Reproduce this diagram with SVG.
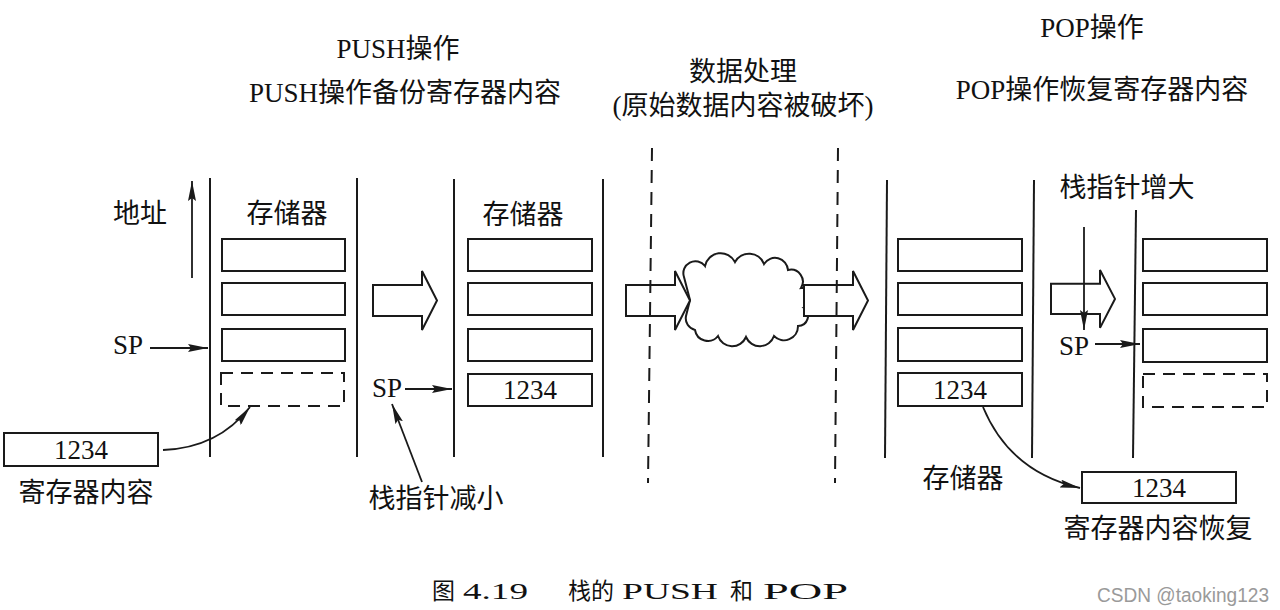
<svg xmlns="http://www.w3.org/2000/svg" width="1280" height="610" viewBox="0 0 1280 610">
<style>
  .t { font-family: "Liberation Serif", "Noto Sans CJK SC", serif; font-size: 27px; fill: #111; }
  .h { font-family: "Liberation Serif", "Noto Sans CJK SC", serif; font-size: 27px; fill: #111; text-anchor: middle; }
  .c { text-anchor: middle; }
  .cap { font-family: "Liberation Serif", "Noto Sans CJK SC", serif; font-size: 23px; fill: #111; }
  .ln { stroke: #1a1a1a; stroke-width: 2; fill: none; }
  .box { stroke: #1a1a1a; stroke-width: 2; fill: #fff; }
  .dbox { stroke: #1a1a1a; stroke-width: 2; fill: none; stroke-dasharray: 12 8; }
  .dash { stroke: #1a1a1a; stroke-width: 2; fill: none; stroke-dasharray: 13 9; }
  .arr { stroke: #1a1a1a; stroke-width: 1.8; fill: none; marker-end: url(#ah); }
  .hollow { stroke: #1a1a1a; stroke-width: 2; fill: #fff; stroke-linejoin: miter; }
</style>
<defs>
  <marker id="ah" viewBox="0 0 20 8" refX="20" refY="4" markerWidth="20" markerHeight="8" markerUnits="userSpaceOnUse" orient="auto">
    <path d="M0,0 L20,4 L0,8 L3,4 Z" fill="#1a1a1a"/>
  </marker>
  <path id="bigarrow" d="M0,14 H49 V0 L64,29.5 L49,59 V45 H0 Z"/>
</defs>
<rect width="1280" height="610" fill="#fff"/>

<g id="titles">
  <text class="h" x="398" y="58">PUSH操作</text>
  <text class="h" x="405" y="102">PUSH操作备份寄存器内容</text>
  <text class="h" x="743" y="81">数据处理</text>
  <text class="h" x="743" y="115">(原始数据内容被破坏)</text>
  <text class="h" x="1092" y="37">POP操作</text>
  <text class="h" x="1102" y="99">POP操作恢复寄存器内容</text>
</g>

<g id="cloud">
  <path class="box" d="M684,277 A12,12 0 0 1 705,266 A16,16 0 0 1 735,262 A16,16 0 0 1 764,264 A13,13 0 0 1 788,270 A12,12 0 0 1 801,288 A10,10 0 0 1 804,308 A10,10 0 0 1 798,326 A14,14 0 0 1 774,336 A15,15 0 0 1 746,337 A15,15 0 0 1 718,336 A13,13 0 0 1 695,330 A12,12 0 0 1 686,316 L690,300 Z"/>
</g>

<g id="flow-arrows">
  <use href="#bigarrow" class="hollow" transform="translate(373,271)"/>
  <use href="#bigarrow" class="hollow" transform="translate(626,271)"/>
  <use href="#bigarrow" class="hollow" transform="translate(804,271)"/>
  <use href="#bigarrow" class="hollow" transform="translate(1051,270) scale(1,0.98)"/>
</g>

<g id="stack1">
  <line class="ln" x1="210" y1="178" x2="210" y2="457"/>
  <line class="ln" x1="357" y1="178" x2="357" y2="457"/>
  <text class="t c" x="287" y="223">存储器</text>
  <rect class="box" x="222" y="239" width="123" height="32"/>
  <rect class="box" x="222" y="283" width="123" height="32"/>
  <rect class="box" x="222" y="329" width="123" height="32"/>
  <rect class="dbox" x="221" y="373" width="123" height="33"/>
  <text class="t" x="113" y="223">地址</text>
</g>

<g id="register1">
  <rect class="box" x="4" y="433" width="154" height="33"/>
  <text class="t c" x="81" y="459">1234</text>
  <text class="t c" x="86" y="502">寄存器内容</text>
</g>

<g id="stack2">
  <line class="ln" x1="454" y1="179" x2="454" y2="457"/>
  <line class="ln" x1="603" y1="179" x2="603" y2="457"/>
  <text class="t c" x="523" y="224">存储器</text>
  <rect class="box" x="468" y="239" width="124" height="32"/>
  <rect class="box" x="468" y="283" width="124" height="32"/>
  <rect class="box" x="468" y="329" width="124" height="32"/>
  <rect class="box" x="468" y="374" width="124" height="32"/>
  <text class="t c" x="530" y="399">1234</text>
</g>

<g id="processing">
  <line class="dash" x1="652" y1="148" x2="648" y2="483"/>
  <line class="dash" x1="838" y1="148" x2="835" y2="483"/>
</g>

<g id="stack3">
  <line class="ln" x1="887" y1="180" x2="885" y2="458"/>
  <line class="ln" x1="1034" y1="180" x2="1032" y2="458"/>
  <rect class="box" x="898" y="239" width="124" height="32"/>
  <rect class="box" x="898" y="283" width="124" height="32"/>
  <rect class="box" x="898" y="328" width="124" height="33"/>
  <rect class="box" x="898" y="373" width="124" height="33"/>
  <text class="t c" x="960" y="399">1234</text>
  <text class="t c" x="963" y="488">存储器</text>
</g>

<g id="stack4">
  <line class="ln" x1="1136" y1="210" x2="1133" y2="458"/>
  <rect class="box" x="1143" y="239" width="124" height="32"/>
  <rect class="box" x="1143" y="283" width="124" height="32"/>
  <rect class="box" x="1143" y="329" width="124" height="33"/>
  <rect class="dbox" x="1143" y="374" width="124" height="33"/>
  <text class="t c" x="1127" y="197">栈指针增大</text>
</g>

<g id="register2">
  <rect class="box" x="1082" y="472" width="154" height="31"/>
  <text class="t c" x="1159" y="497">1234</text>
  <text class="t c" x="1158" y="538">寄存器内容恢复</text>
</g>

<g id="sp-labels">
  <text class="t" x="113" y="354">SP</text>
  <text class="t" x="372" y="397">SP</text>
  <text class="t" x="1059" y="355">SP</text>
  <text class="t c" x="436" y="508">栈指针减小</text>
</g>

<g id="connectors">
  <line class="arr" x1="192" y1="278" x2="192" y2="181"/>
  <line class="arr" x1="150" y1="348" x2="208" y2="348"/>
  <line class="arr" x1="405" y1="389" x2="452" y2="389"/>
  <line class="arr" x1="1095" y1="344" x2="1140" y2="344"/>
  <line class="arr" x1="1084" y1="227" x2="1084" y2="330"/>
  <line class="arr" x1="422" y1="482" x2="392" y2="404"/>
  <path class="arr" d="M163,450 Q218,448 250,407"/>
  <path class="arr" d="M983,407 Q1010,472 1080,488"/>
</g>

<g id="caption">
  <text class="cap" x="432" y="599">图</text>
  <text class="cap" x="463" y="599" textLength="65" lengthAdjust="spacingAndGlyphs">4.19</text>
  <text class="cap" x="568" y="599">栈的</text>
  <text class="cap" x="622" y="599" textLength="96" lengthAdjust="spacingAndGlyphs">PUSH</text>
  <text class="cap" x="730" y="599">和</text>
  <text class="cap" x="763" y="599" textLength="85" lengthAdjust="spacingAndGlyphs">POP</text>
  <text x="1097" y="602" font-family="'Liberation Sans', sans-serif" font-size="20" fill="#9a9a9a" textLength="172" lengthAdjust="spacingAndGlyphs">CSDN @taoking123</text>
</g>
</svg>
